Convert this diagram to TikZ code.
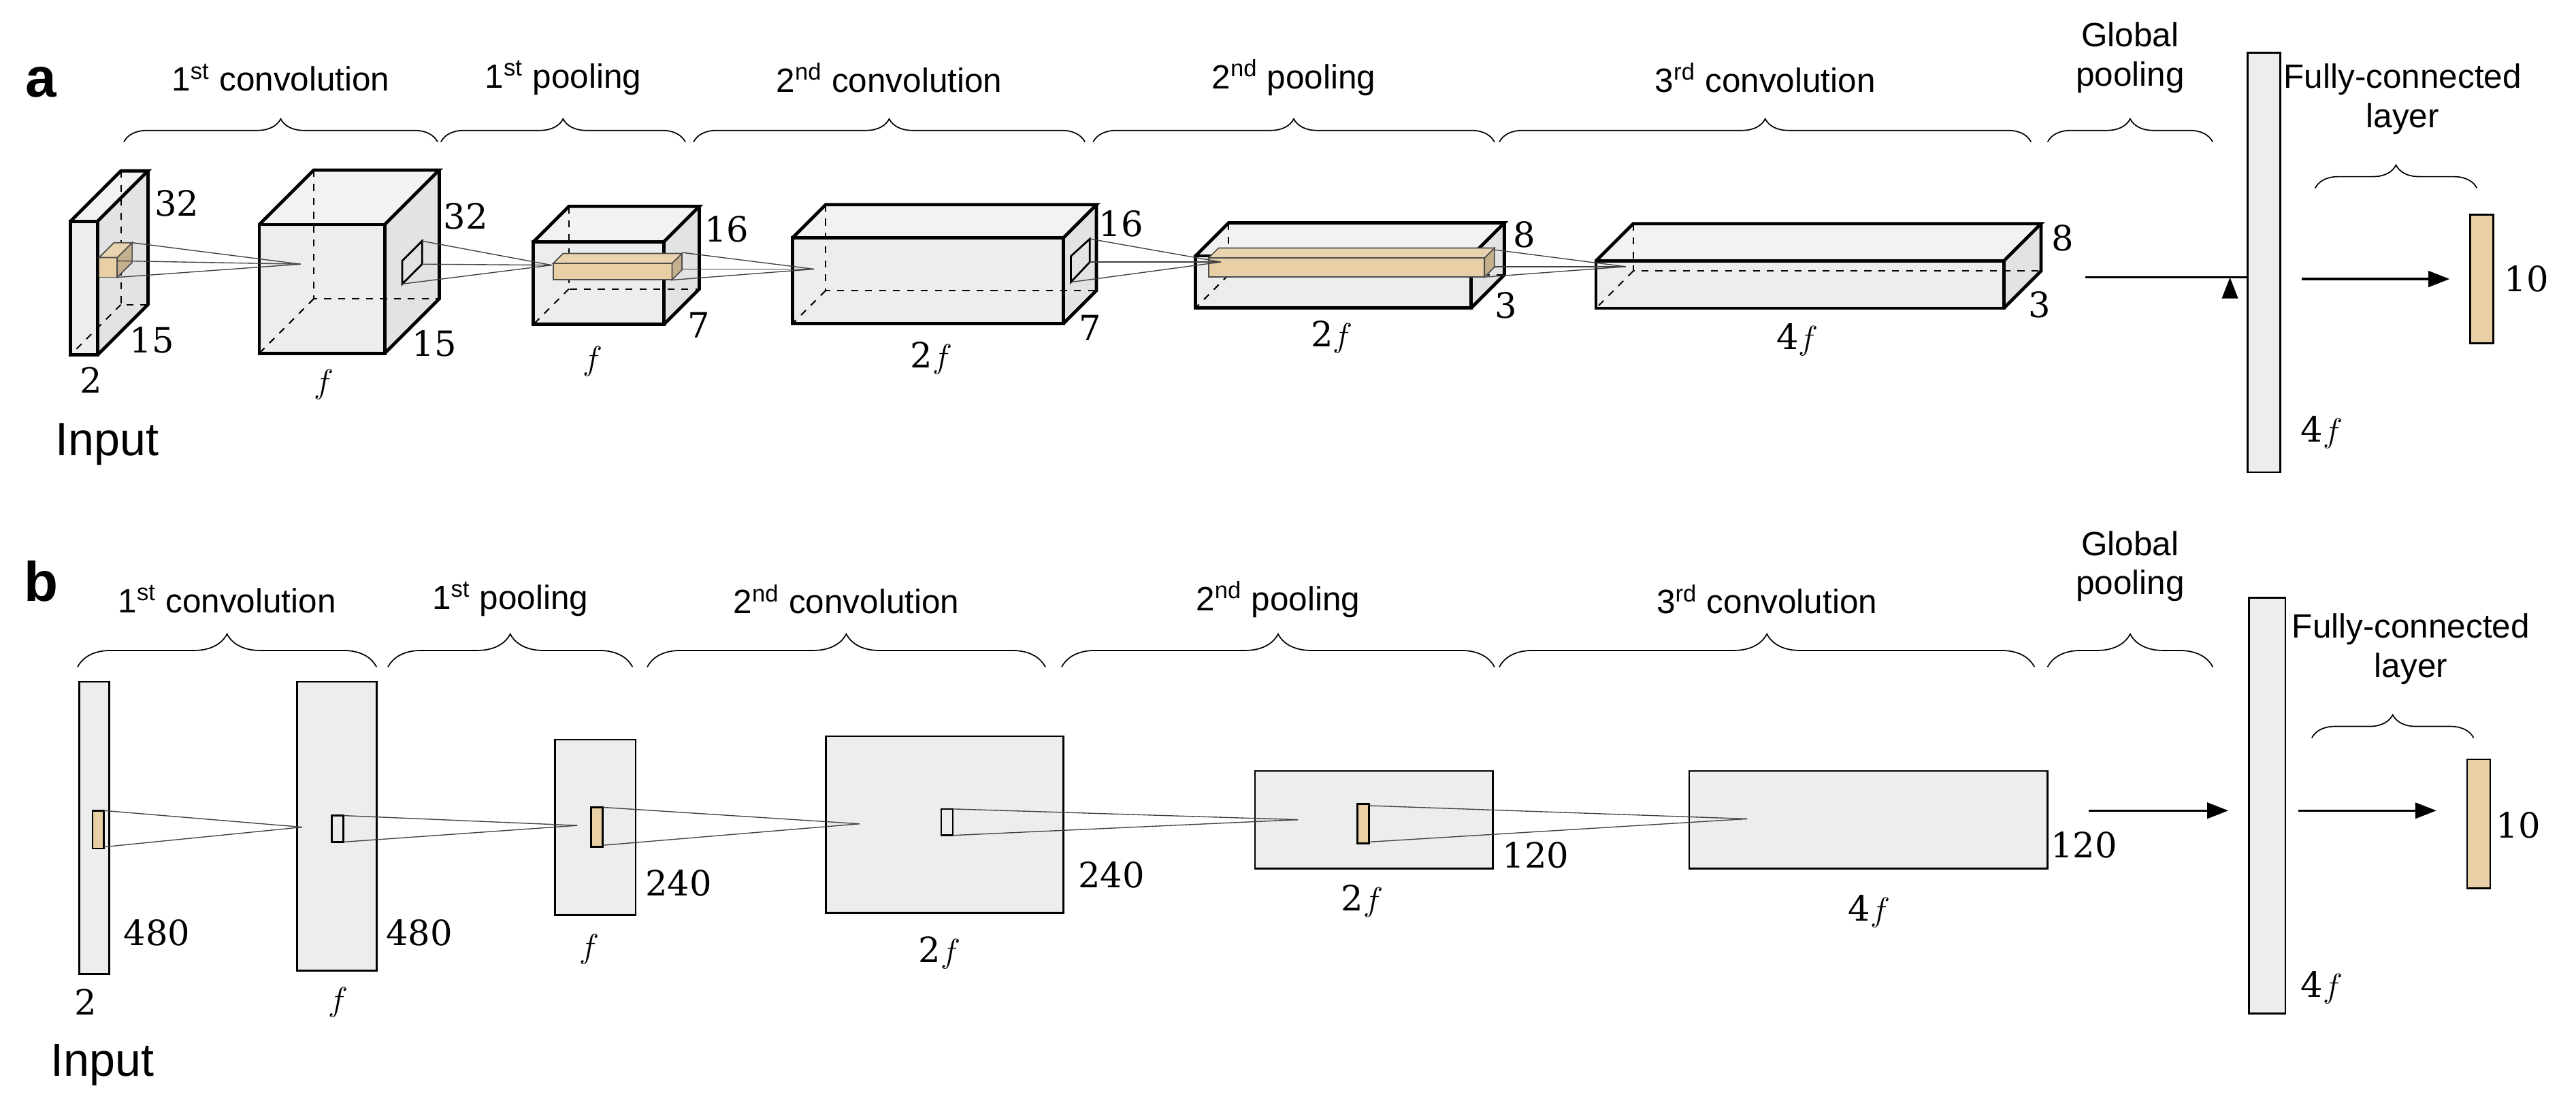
\documentclass[tikz,border=0pt]{standalone}
\usepackage{fontspec}
\setsansfont{Liberation Sans}
\newfontfamily\numfont{DejaVu Serif}
\usetikzlibrary{decorations.pathreplacing,arrows.meta}
\definecolor{boxg}{HTML}{EDEDED}
\definecolor{topg}{HTML}{F2F2F2}
\definecolor{sideg}{HTML}{E3E3E3}
\definecolor{tan}{HTML}{E8CFA6}
\newcommand\mycuboid[5]{%
  \fill[boxg] (#1,#2) rectangle ++(#3,#4);
  \fill[topg] (#1,#2) -- ++(#5,-#5) -- ++(#3,0) -- ++(-#5,#5) -- cycle;
  \fill[sideg] ({#1+#3},#2) -- ++(#5,-#5) -- ++(0,#4) -- ++(-#5,#5) -- cycle;
  \draw[hid] ({#1+#5},{#2-#5}) -- ({#1+#5},{#2+#4-#5}) -- ({#1+#3+#5},{#2+#4-#5});
  \draw[hid] ({#1+#5},{#2+#4-#5}) -- (#1,{#2+#4});
  \draw[edge] (#1,#2) rectangle ++(#3,#4);
  \draw[edge] (#1,#2) -- ++(#5,-#5) -- ++(#3,0) -- ++(-#5,#5);
  \draw[edge] ({#1+#3+#5},{#2-#5}) -- ++(0,#4) -- ++(-#5,#5);
}
\newcommand\mytan[5]{%
  \filldraw[tan,draw=black!70,line width=0.5pt] (#1,#2) rectangle ++(#3,#4);
  \filldraw[tan!85!black,draw=black!70,line width=0.5pt] ({#1+#3},#2) -- ++(#5,-#5) -- ++(0,#4) -- ++(-#5,#5) -- cycle;
  \filldraw[tan!90!white,draw=black!70,line width=0.5pt] (#1,#2) -- ++(#5,-#5) -- ++(#3,0) -- ++(-#5,#5) -- cycle;
}
\begin{document}
\begin{tikzpicture}[x=0.25mm,y=-0.25mm,
  edge/.style={line width=1.4pt,line join=miter},
  hid/.style={dashed,line width=0.6pt},
  ray/.style={line width=0.4pt,black!75},
  lab/.style={font=\sffamily\fontsize{14.5}{17}\selectfont,align=center},
  num/.style={font=\numfont\fontsize{15}{18}\selectfont},
  big/.style={font=\sffamily\fontsize{20}{22}\selectfont},
  panel/.style={font=\sffamily\bfseries\fontsize{24}{26}\selectfont},
  brc/.style={decorate,decoration={brace,amplitude=#1},line width=0.5pt},
  brc/.default=3.5mm,
  arr/.style={-{Triangle[length=3.2mm,width=2.4mm]},line width=1pt},
  rbox/.style={draw,fill=boxg,line width=0.8pt},
  tbox/.style={draw,fill=tan,line width=0.8pt}]
\useasboundingbox (0,0) rectangle (1560,678);
% ================= panel a
\node[panel] (pa) at (25,50) {a};
\foreach \a/\b/\t/\n in {75/265/1\textsuperscript{st} convolution/c1,267/415/1\textsuperscript{st} pooling/p1,420/657/2\textsuperscript{nd} convolution/c2,662/905/2\textsuperscript{nd} pooling/p2,908/1230/3\textsuperscript{rd} convolution/c3}{
  \draw[brc] (\a,86) -- (\b,86);
  \node[lab] (la\n) at ({(\a+\b)/2},47) {\t};
}
\draw[brc] (1240,86) -- (1340,86);
\node[lab] (lagp) at (1290,35) {Global\\pooling};
\draw[brc] (1402,114) -- (1500,114);
\node[lab] (lafc) at (1455,60) {Fully-connected\\layer};

\mycuboid{42.7}{134}{16.4}{81}{30.5}
\mycuboid{157}{136}{76}{78}{33}
\mycuboid{323}{146.5}{79}{50}{21.5}
\mycuboid{480}{144}{164}{52}{20}
\mycuboid{724}{155}{167}{31.5}{20}
\mycuboid{966.5}{158}{247}{28.7}{22.5}

\mytan{60}{156}{11}{12}{9}
\mytan{335}{159.5}{72}{10}{6}
\mytan{732}{156.2}{167}{11.6}{6}
\draw[line width=0.8pt] (243.6,158) -- (255.6,146) -- (255.6,160) -- (243.6,172) -- cycle;
\draw[line width=0.8pt] (648.5,155.2) -- (660,144.7) -- (660,158.7) -- (648.5,170.9) -- cycle;

\coordinate (fa1) at (182,160);
\coordinate (fa2) at (334,160.6);
\coordinate (fa3) at (493,163);
\coordinate (fa4) at (739.3,158.7);
\coordinate (fa5) at (984.5,161.5);
\foreach \p in {(80,147),(71,158),(71,168)} \draw[ray] \p -- (fa1);
\foreach \p in {(255.6,146),(255.6,160),(243.6,172)} \draw[ray] \p -- (fa2);
\foreach \p in {(413.5,153),(413.5,163),(407,169.6)} \draw[ray] \p -- (fa3);
\foreach \p in {(660,144.7),(660,158.7),(648.5,170.9)} \draw[ray] \p -- (fa4);
\foreach \p in {(905,151.3),(905,161.5),(899.3,167.8)} \draw[ray] \p -- (fa5);

\node[num] (n1) at (107,123) {32};
\node[num] (n2) at (92,206) {15};
\node[num] (n3) at (55,230) {2};
\node[big] (in1) at (65,269) {Input};
\node[num] (n4) at (282,131) {32};
\node[num] (n5) at (263,208) {15};
\node[num] (n6) at (196,233) {$f$};
\node[num] (n7) at (440,139) {16};
\node[num] (n8) at (423,197) {7};
\node[num] (n9) at (359,219) {$f$};
\node[num] (n10) at (679,135.6) {16};
\node[num] (n11) at (660,198.6) {7};
\node[num] (n12) at (564,217) {2$f$};
\node[num] (n13) at (923,142) {8};
\node[num] (n14) at (912,185) {3};
\node[num] (n15) at (806.5,204) {2$f$};
\node[num] (n16) at (1249,144) {8};
\node[num] (n17) at (1235,184.6) {3};
\node[num] (n18) at (1088.5,205.6) {4$f$};

\node[rbox,minimum width=5mm,minimum height=63.5mm,inner sep=0pt] (gpa) at (1371,159) {};
\node[tbox,minimum width=3.5mm,minimum height=19.5mm,inner sep=0pt] (fca) at (1503,169) {};
\coordinate (aa1) at (1263,168);
\draw[arr] (aa1) -- (gpa.west |- aa1) ++(-10,0);
\draw[arr] (1394,169) -- ([xshift=-3mm]fca.west);
\node[num] (n19) at (1406,262) {4$f$};
\node[num] (n20) at (1530,169) {10};

% ================= panel b
\node[panel] (pb) at (25,352) {b};
\foreach \a/\b/\t/\n in {47/228/1\textsuperscript{st} convolution/c1,235/383/1\textsuperscript{st} pooling/p1,392/633/2\textsuperscript{nd} convolution/c2,643/905/2\textsuperscript{nd} pooling/p2,908/1232/3\textsuperscript{rd} convolution/c3}{
  \draw[brc=5mm] (\a,404) -- (\b,404);
  \node[lab] (lb\n) at ({(\a+\b)/2},363) {\t};
}
\draw[brc=5mm] (1240,404) -- (1340,404);
\node[lab] (lbgp) at (1290,343) {Global\\pooling};
\draw[brc] (1400,447) -- (1498,447);
\node[lab] (lbfc) at (1460,393) {Fully-connected\\layer};

\draw[rbox] (48,413) rectangle (66,590);
\draw[rbox] (180,413) rectangle (228,588);
\draw[rbox] (336,448) rectangle (385,554);
\draw[rbox] (500,446) rectangle (644,553);
\draw[rbox] (760,467) rectangle (904,526);
\draw[rbox] (1023,467) rectangle (1240,526);
\draw[tbox] (56,491) rectangle (63,514);
\draw[rbox] (201,494) rectangle (208,510);
\draw[tbox] (358,489) rectangle (365,513);
\draw[rbox] (570,490) rectangle (577,506);
\draw[tbox] (822,487) rectangle (829,511);

\coordinate (fb1) at (183,501);
\coordinate (fb2) at (349.6,500);
\coordinate (fb3) at (520.5,499);
\coordinate (fb4) at (786,496.5);
\coordinate (fb5) at (1058,496);
\foreach \p in {(63,491),(63,513)} \draw[ray] \p -- (fb1);
\foreach \p in {(208,494),(208,510)} \draw[ray] \p -- (fb2);
\foreach \p in {(365,489),(365,512)} \draw[ray] \p -- (fb3);
\foreach \p in {(577,490),(577,506)} \draw[ray] \p -- (fb4);
\foreach \p in {(829,488),(829,510)} \draw[ray] \p -- (fb5);

\node[num] (m1) at (95,565) {480};
\node[num] (m2) at (52,607) {2};
\node[big] (in2) at (62,645) {Input};
\node[num] (m3) at (254,565) {480};
\node[num] (m4) at (205,607) {$f$};
\node[num] (m5) at (411,535) {240};
\node[num] (m6) at (357,575) {$f$};
\node[num] (m7) at (673,530) {240};
\node[num] (m8) at (569,577) {2$f$};
\node[num] (m9) at (930,518) {120};
\node[num] (m10) at (825,546) {2$f$};
\node[num] (m11) at (1262,512) {120};
\node[num] (m12) at (1132,552) {4$f$};

\node[rbox,minimum width=5.5mm,minimum height=63mm,inner sep=0pt] (gpb) at (1373,488) {};
\node[tbox,minimum width=3.5mm,minimum height=19.5mm,inner sep=0pt] (fcb) at (1501,499) {};
\coordinate (ab1) at (1265,491);
\draw[arr] (ab1) -- ([xshift=-3mm]gpb.west |- ab1);
\draw[arr] (1392,491) -- ([xshift=-4.5mm]fcb.west |- 1392,491);
\node[num] (m13) at (1406,598) {4$f$};
\node[num] (m14) at (1525,500) {10};
\end{tikzpicture}
\end{document}
